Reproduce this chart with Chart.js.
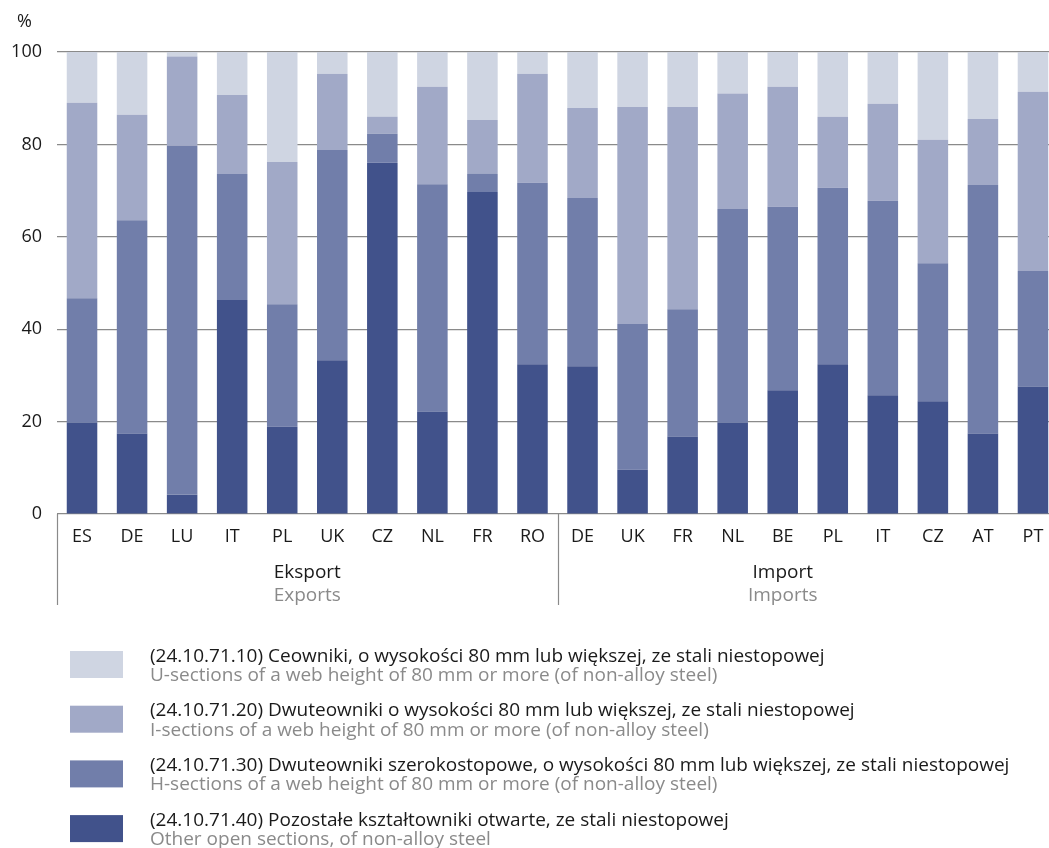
<!DOCTYPE html>
<html>
<head>
<meta charset="utf-8">
<script src="https://cdn.jsdelivr.net/npm/chart.js@4.4.1/dist/chart.umd.min.js"></script>
<style>
  html, body { margin: 0; padding: 0; background: #fff; overflow: hidden; }
  canvas { display: block; }
</style>
</head>
<body>
<canvas id="myChart" width="1058" height="848"></canvas>
<script>
// countries: 10 export + 10 import
const categories = ['ES', 'DE', 'LU', 'IT', 'PL', 'UK', 'CZ', 'NL', 'FR', 'RO',
    'DE', 'UK', 'FR', 'NL', 'BE', 'PL', 'IT', 'CZ', 'AT', 'PT']

// shares in % (bottom to top of each bar)
const otherSections = [19.8, 17.4, 4.2, 46.3, 18.9, 33.3, 76.0, 22.2, 69.7, 32.4,
    32.0, 9.6, 16.8, 19.8, 26.8, 32.4, 25.7, 24.4, 17.4, 27.6]
const hSections = [26.9, 46.2, 75.5, 27.3, 26.5, 45.5, 6.3, 49.2, 3.9, 39.3,
    36.4, 31.5, 27.5, 46.2, 39.7, 38.2, 42.1, 29.9, 53.8, 25.0]
const iSections = [42.3, 22.8, 19.3, 17.1, 30.8, 16.5, 3.7, 21.1, 11.7, 23.6,
    19.5, 47.0, 43.8, 25.0, 26.0, 15.4, 21.0, 26.7, 14.3, 38.8]
const uSections = [11.0, 13.6, 1.0, 9.3, 23.8, 4.7, 14.0, 7.5, 14.7, 4.7,
    12.1, 11.9, 11.9, 9.0, 7.5, 14.0, 11.2, 19.0, 14.5, 8.6]

const yTicks = [0, 20, 40, 60, 80, 100]

const groupsPl = ['Eksport', 'Import']
const groupsEn = ['Exports', 'Imports']

const seriesPl = [
    '(24.10.71.40) Pozostałe kształtowniki otwarte, ze stali niestopowej',
    '(24.10.71.30) Dwuteowniki szerokostopowe, o wysokości 80 mm lub większej, ze stali niestopowej',
    '(24.10.71.20) Dwuteowniki o wysokości 80 mm lub większej, ze stali niestopowej',
    '(24.10.71.10) Ceowniki, o wysokości 80 mm lub większej, ze stali niestopowej'
]
const seriesEn = [
    'Other open sections, of non-alloy steel',
    'H-sections of a web height of 80 mm or more (of non-alloy steel)',
    'I-sections of a web height of 80 mm or more (of non-alloy steel)',
    'U-sections of a web height of 80 mm or more (of non-alloy steel)'
]

const colors = ['#41528b', '#717eaa', '#a1a9c7', '#cfd5e2']
const FONT = '"Open Sans", "Noto Sans", sans-serif'
const BLACK = '#1a1a1a'
const GREY = '#8a8a8a'

const seriesData = [otherSections, hSections, iSections, uSections]

const datasets = seriesData.map((d, i) => ({
    label: seriesPl[i],
    data: d,
    backgroundColor: colors[i],
    borderWidth: 0,
    categoryPercentage: 1,
    barPercentage: 0.61
}))

// extra drawing: % label, group lines and names, two-line legend
const extras = {
    id: 'extras',
    afterDraw(chart) {
        const ctx = chart.ctx
        const area = chart.chartArea
        const x = chart.scales.x
        ctx.save()

        ctx.fillStyle = BLACK
        ctx.font = '18px ' + FONT
        ctx.textAlign = 'left'
        ctx.textBaseline = 'alphabetic'
        ctx.fillText('%', 17, 27)

        // group separators below the axis
        const split = (x.getPixelForValue(9) + x.getPixelForValue(10)) / 2
        ctx.strokeStyle = '#8a8a8a'
        ctx.lineWidth = 1.2
        ;[area.left, split, area.right].forEach((px) => {
            ctx.beginPath()
            ctx.moveTo(Math.round(px) + 0.5, area.bottom)
            ctx.lineTo(Math.round(px) + 0.5, 605)
            ctx.stroke()
        })

        // group names
        const centers = [(area.left + split) / 2, x.getPixelForValue(14)]
        ctx.font = '19px ' + FONT
        ctx.textAlign = 'center'
        centers.forEach((cx, i) => {
            ctx.fillStyle = BLACK
            ctx.fillText(groupsPl[i], cx, 578)
            ctx.fillStyle = GREY
            ctx.fillText(groupsEn[i], cx, 601)
        })

        // legend, top entry = top stack
        ctx.textAlign = 'left'
        ctx.font = '19px ' + FONT
        for (let k = 0; k < 4; k++) {
            const idx = 3 - k
            const top = 651 + k * 54.7
            ctx.fillStyle = colors[idx]
            ctx.fillRect(70, top, 53, 27)
            ctx.fillStyle = BLACK
            ctx.fillText(seriesPl[idx], 150, top + 10.5)
            ctx.fillStyle = GREY
            ctx.fillText(seriesEn[idx], 150, top + 30)
        }
        ctx.restore()
    }
}

const config = {
    type: 'bar',
    data: {
        labels: categories,
        datasets: datasets
    },
    options: {
        responsive: false,
        animation: false,
        devicePixelRatio: 1,
        layout: {
            padding: { top: 52, right: 0, bottom: 0, left: 0 }
        },
        plugins: {
            legend: { display: false },
            tooltip: { enabled: false }
        },
        scales: {
            x: {
                stacked: true,
                grid: { display: false, drawTicks: false },
                border: { display: false },
                ticks: {
                    color: BLACK,
                    font: { family: FONT, size: 18 },
                    padding: 12,
                    maxRotation: 0,
                    autoSkip: false
                },
                afterFit(scale) { scale.height = 334 }
            },
            y: {
                stacked: true,
                min: 0,
                max: 100,
                grid: { color: '#8a8a8a', lineWidth: 1.2, drawTicks: false },
                border: { display: false },
                afterBuildTicks(scale) { scale.ticks = yTicks.map((v) => ({ value: v })) },
                ticks: {
                    color: BLACK,
                    font: { family: FONT, size: 18 },
                    padding: 15
                },
                afterFit(scale) { scale.width = 57 }
            }
        }
    },
    plugins: [extras]
}

const chart = new Chart(document.querySelector('#myChart'), config)
</script>
</body>
</html>
